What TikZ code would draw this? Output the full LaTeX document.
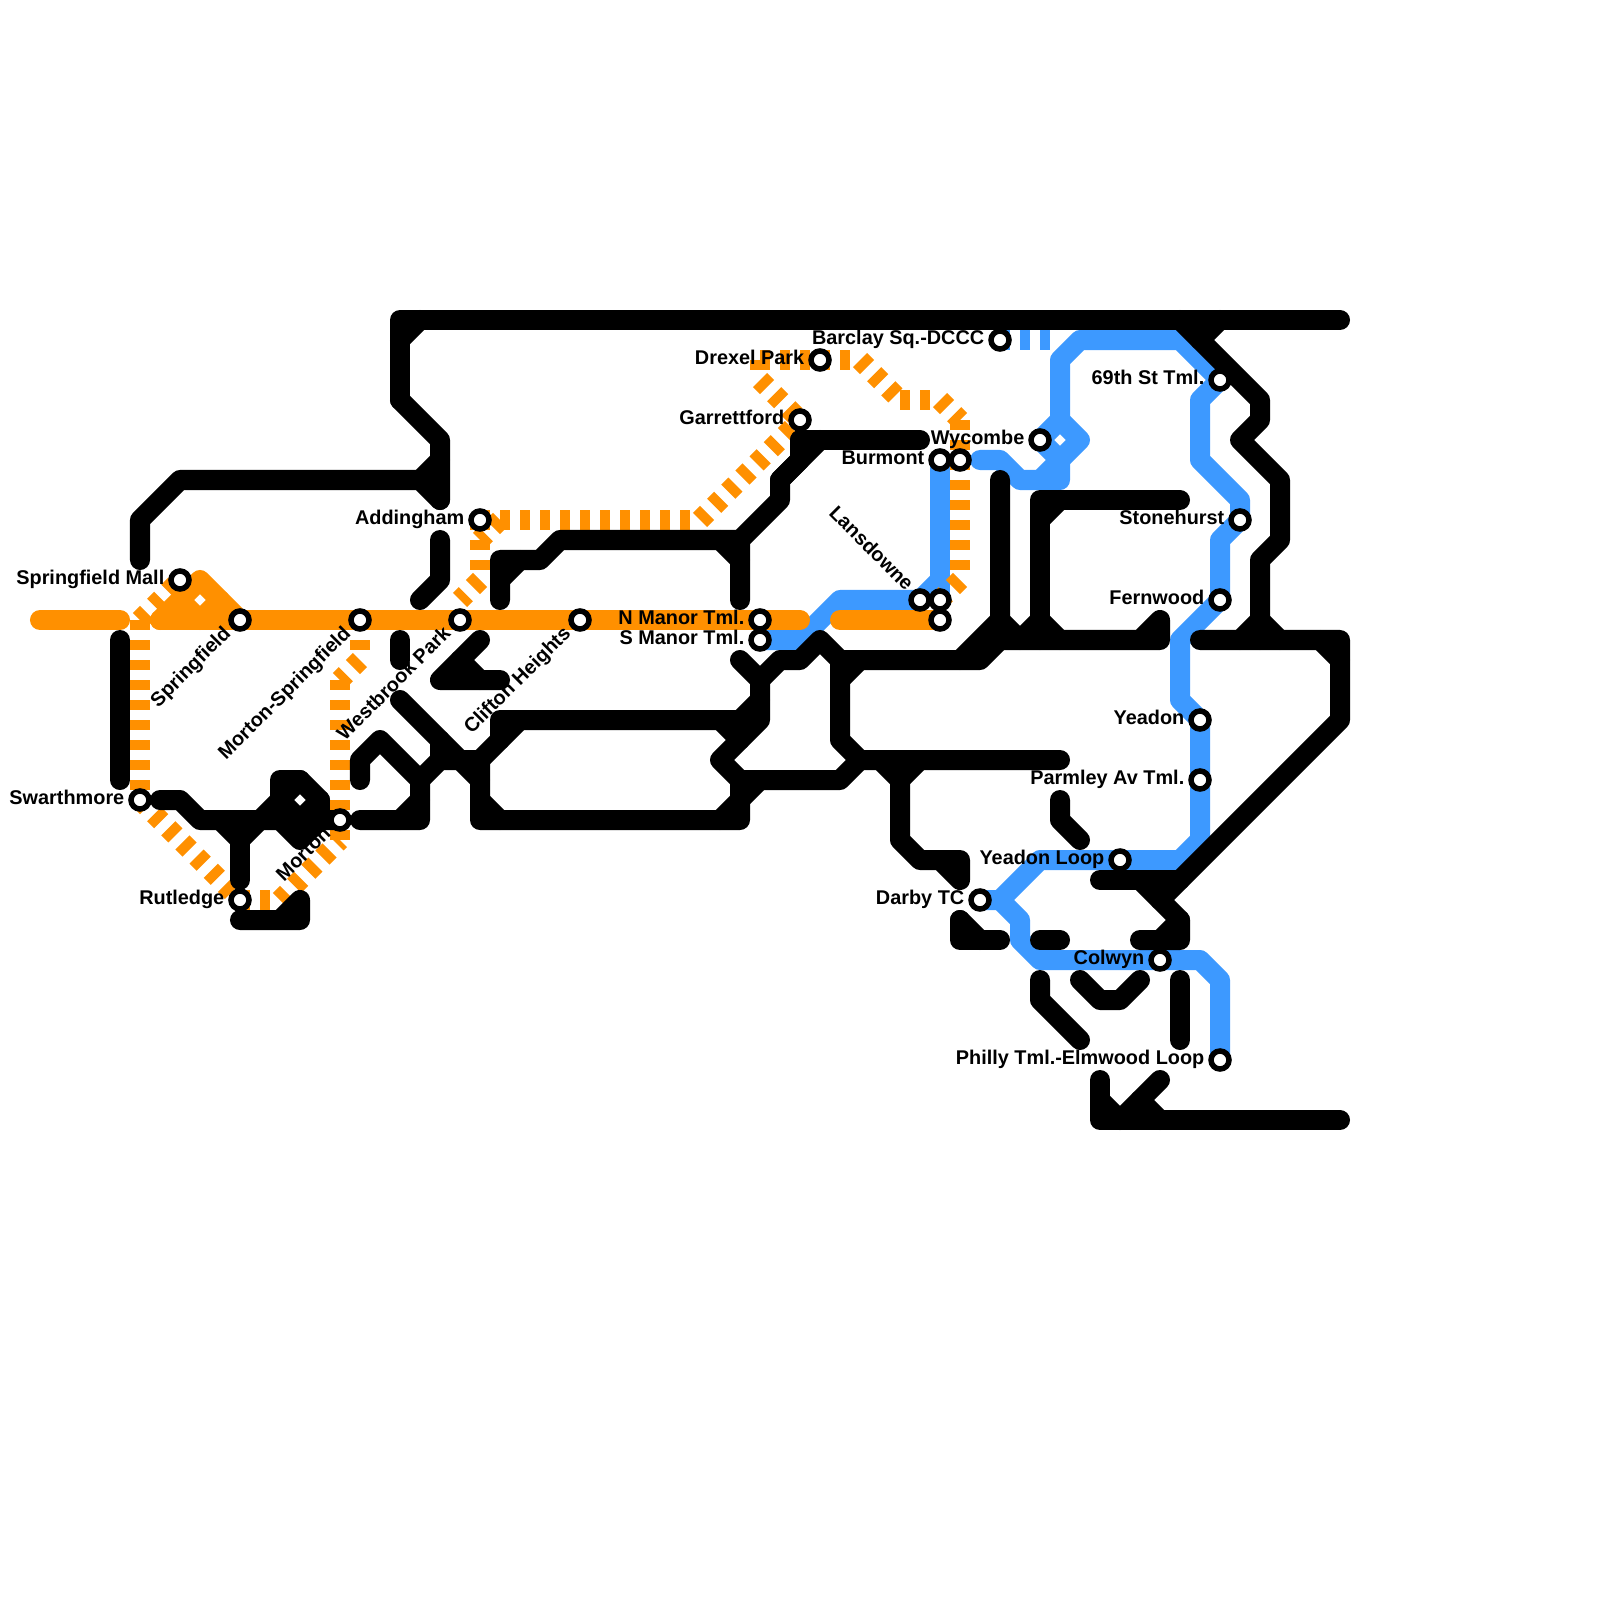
\documentclass[tikz,border=0pt]{standalone}
\usepackage{fontspec}
\setmainfont{Liberation Sans}
\tikzset{
  x=0.01cm,y=-0.01cm,
  blk/.style={draw=black,line width=0.2cm,line cap=round,line join=round},
  blu/.style={draw=mapblue,line width=0.2cm,line cap=round,line join=round},
  org/.style={draw=maporange,line width=0.2cm,line cap=round,line join=round},
  orgd/.style={draw=maporange,line width=0.2cm,line cap=butt,dash pattern=on 0.1cm off 0.1cm},
  blud/.style={draw=mapblue,line width=0.2cm,line cap=butt,dash pattern=on 0.1cm off 0.1cm},
  stn/.style={circle,draw=black,fill=white,line width=0.055cm,minimum size=0.18cm,inner sep=0pt},
  lbl/.style={font=\fontsize{5.65pt}{6pt}\selectfont\bfseries,inner sep=0pt,text height=0.14cm,text depth=0.05cm,text=black},
  lw/.style={lbl,anchor=east},
  lr/.style={lbl,anchor=east,rotate=45},
  lf/.style={lbl,anchor=east,rotate=-45},
}
\definecolor{mapblue}{HTML}{3D99FF}
\definecolor{maporange}{HTML}{FF9000}
\begin{document}
\begin{tikzpicture}
\useasboundingbox (0,0) rectangle (1600,1600);
% station positions
\coordinate (cMall) at (180,580);
\coordinate (cSpr) at (240,620);
\coordinate (cMS) at (360,620);
\coordinate (cWest) at (460,620);
\coordinate (cClif) at (580,620);
\coordinate (cNM) at (760,620);
\coordinate (cSM) at (760,640);
\coordinate (cAdd) at (480,520);
\coordinate (cSwa) at (140,800);
\coordinate (cRut) at (240,900);
\coordinate (cMor) at (340,820);
\coordinate (cDre) at (820,360);
\coordinate (cGar) at (800,420);
\coordinate (cBar) at (1000,340);
\coordinate (cWyc) at (1040,440);
\coordinate (cBur) at (940,460);
\coordinate (cBurB) at (960,460);
\coordinate (cLan) at (920,600);
\coordinate (cLanB) at (940,600);
\coordinate (cLanC) at (940,620);
\coordinate (cDar) at (980,900);
\coordinate (c69) at (1220,380);
\coordinate (cSto) at (1240,520);
\coordinate (cFer) at (1220,600);
\coordinate (cYea) at (1200,720);
\coordinate (cPar) at (1200,780);
\coordinate (cYL) at (1120,860);
\coordinate (cCol) at (1160,960);
\coordinate (cPhi) at (1220,1060);
% blue
\draw[blud] (cBar) -- (1060,340);
\draw[blu] (1060,420) -- (1060,360) -- (1080,340) -- (1180,340) -- (c69) -- (1200,400) -- (1200,460) -- (1240,500) -- (cSto) -- (1220,540) -- (cFer) -- (1180,640) -- (1180,700) -- (cYea) -- (cPar) -- (1200,840) -- (1180,860) -- (cYL) -- (1040,860) -- (1000,900) -- (cDar);
\draw[blu] (1000,900) -- (1020,920) -- (1020,940) -- (1040,960) -- (cCol) -- (1200,960) -- (1220,980) -- (cPhi);
\draw[blu] (cWyc) -- (1060,420) -- (1080,440) -- (1060,460) -- cycle;
\draw[blu] (1060,460) -- (1060,480) -- (1020,480) -- (1000,460) -- (980,460);
\draw[blu] (1060,460) -- (1040,480);
\draw[blu] (cBur) -- (cLanB);
\draw[blu] (940,580) -- (cLan) -- (840,600) -- (800,640) -- (cSM);
% orange
\draw[org] (40,620) -- (120,620);
\draw[org] (160,620) -- (800,620);
\draw[org] (160,620) -- (200,580) -- (240,620);
\draw[org] (180,600) -- (200,620) -- (220,600);
\draw[org] (840,620) -- (cLanC);
\draw[orgd] (140,620) -- (cMall);
\draw[orgd] (140,620) -- (cSwa);
\draw[orgd] (cSwa) -- (cRut);
\draw[orgd] (cRut) -- (280,900);
\draw[orgd] (280,900) -- (340,840);
\draw[orgd] (340,840) -- (cMor);
\draw[orgd] (340,680) -- (cMor);
\draw[orgd] (cMS) -- (360,660);
\draw[orgd] (360,660) -- (340,680);
\draw[orgd] (cAdd) -- (480,580);
\draw[orgd] (500,520) -- (480,540);
\draw[orgd] (480,580) -- (460,600);
\draw[orgd] (cWest) -- (460,600);
\draw[orgd] (cAdd) -- (700,520);
\draw[orgd] (700,520) -- (cGar);
\draw[orgd] (760,380) -- (cGar);
\draw[orgd] (760,360) -- (760,380);
\draw[orgd] (760,360) -- (860,360);
\draw[orgd] (860,360) -- (900,400);
\draw[orgd] (900,400) -- (940,400);
\draw[orgd] (940,400) -- (960,420);
\draw[orgd] (960,420) -- (960,580);
\draw[orgd] (960,580) -- (cLanB);
% black
\draw[blk] (400,400) -- (400,320) -- (1340,320);
\draw[blk] (400,340) -- (420,320);
\draw[blk] (400,400) -- (440,440) -- (440,500);
\draw[blk] (140,560) -- (140,520) -- (180,480) -- (420,480) -- (440,500);
\draw[blk] (420,480) -- (440,460);
\draw[blk] (440,540) -- (440,580) -- (420,600);
\draw[blk] (400,640) -- (400,660);
\draw[blk] (480,640) -- (440,680) -- (500,680);
\draw[blk] (460,660) -- (480,680);
\draw[blk] (120,640) -- (120,780);
\draw[blk] (160,800) -- (180,800) -- (200,820) -- (280,820);
\draw[blk] (220,820) -- (240,840) -- (260,820);
\draw[blk] (240,840) -- (240,880);
\draw[blk] (260,820) -- (280,800) -- (300,780) -- (320,800) -- (300,820) -- (280,800);
\draw[blk] (280,820) -- (280,780) -- (300,780);
\draw[blk] (280,820) -- (300,840) -- (320,820) -- (cMor);
\draw[blk] (320,800) -- (320,820);
\draw[blk] (240,920) -- (300,920) -- (300,900) -- (280,920);
\draw[blk] (360,780) -- (360,760) -- (380,740) -- (420,780) -- (420,820) -- (360,820);
\draw[blk] (400,820) -- (420,800);
\draw[blk] (420,780) -- (440,760) -- (480,760);
\draw[blk] (400,700) -- (460,760) -- (480,780);
\draw[blk] (440,740) -- (440,760);
\draw[blk] (480,760) -- (480,820) -- (740,820) -- (740,780) -- (720,760) -- (760,720) -- (760,680) -- (740,660);
\draw[blk] (480,800) -- (500,820);
\draw[blk] (480,760) -- (520,720);
\draw[blk] (500,740) -- (500,720) -- (740,720) -- (760,700);
\draw[blk] (720,720) -- (740,740);
\draw[blk] (720,820) -- (740,800) -- (760,780);
\draw[blk] (740,780) -- (840,780) -- (860,760);
\draw[blk] (760,680) -- (780,660) -- (800,660) -- (820,640) -- (840,660);
\draw[blk] (840,660) -- (840,740) -- (860,760) -- (1060,760);
\draw[blk] (840,680) -- (860,660);
\draw[blk] (840,660) -- (980,660) -- (1000,640);
\draw[blk] (960,660) -- (1000,620);
\draw[blk] (1000,480) -- (1000,640) -- (1160,640) -- (1160,620) -- (1140,640);
\draw[blk] (1000,620) -- (1020,640) -- (1040,620);
\draw[blk] (1180,500) -- (1040,500) -- (1040,640);
\draw[blk] (1040,520) -- (1060,500);
\draw[blk] (1040,620) -- (1060,640);
\draw[blk] (1180,320) -- (1260,400) -- (1260,420) -- (1240,440) -- (1280,480) -- (1280,540) -- (1260,560) -- (1260,640);
\draw[blk] (1200,340) -- (1220,320);
\draw[blk] (1240,640) -- (1260,620) -- (1280,640);
\draw[blk] (1200,640) -- (1340,640) -- (1340,720) -- (1160,900);
\draw[blk] (1320,640) -- (1340,660);
\draw[blk] (1100,880) -- (1180,880);
\draw[blk] (1140,880) -- (1180,920) -- (1180,940) -- (1140,940);
\draw[blk] (1160,940) -- (1180,920);
\draw[blk] (1060,800) -- (1060,820) -- (1080,840);
\draw[blk] (1040,940) -- (1060,940);
\draw[blk] (960,920) -- (960,940) -- (1000,940);
\draw[blk] (960,920) -- (980,940);
\draw[blk] (1040,980) -- (1040,1000) -- (1080,1040);
\draw[blk] (1080,980) -- (1100,1000) -- (1120,1000) -- (1140,980);
\draw[blk] (1180,980) -- (1180,1040);
\draw[blk] (1100,1080) -- (1100,1120) -- (1340,1120);
\draw[blk] (1160,1080) -- (1120,1120);
\draw[blk] (1100,1100) -- (1120,1120);
\draw[blk] (1140,1100) -- (1160,1120);
\draw[blk] (900,760) -- (900,840) -- (920,860) -- (960,860) -- (960,880) -- (940,860);
\draw[blk] (880,760) -- (900,780) -- (920,760);
\draw[blk] (cGar) ++(0,20) -- (920,440);
\draw[blk] (800,440) -- (800,460) -- (780,480) -- (780,500) -- (740,540) -- (740,600);
\draw[blk] (820,440) -- (780,480);
\draw[blk] (720,540) -- (740,560);
\draw[blk] (740,540) -- (560,540) -- (540,560) -- (500,560) -- (500,600);
\draw[blk] (500,580) -- (520,560);
% stations
\foreach \n in {Mall,Spr,MS,West,Clif,NM,SM,Add,Swa,Rut,Mor,Dre,Gar,Bar,Wyc,Bur,BurB,Lan,LanB,LanC,Dar,69,Sto,Fer,Yea,Par,YL,Col,Phi}
  \node[stn] (s\n) at (c\n) {};
% labels
\node[lw] (lMall) at ([xshift=-0.15cm]cMall) {Springfield Mall};
\node[lw] (lSwa) at ([xshift=-0.15cm]cSwa) {Swarthmore};
\node[lw] (lRut) at ([xshift=-0.15cm]cRut) {Rutledge};
\node[lw] (lAdd) at ([xshift=-0.15cm]cAdd) {Addingham};
\node[lw] (lNM) at ([xshift=-0.15cm]cNM) {N Manor Tml.};
\node[lw] (lSM) at ([xshift=-0.15cm]cSM) {S Manor Tml.};
\node[lw] (lDre) at ([xshift=-0.15cm]cDre) {Drexel Park};
\node[lw] (lGar) at ([xshift=-0.15cm]cGar) {Garrettford};
\node[lw] (lBar) at ([xshift=-0.15cm]cBar) {Barclay Sq.-DCCC};
\node[lw] (lWyc) at ([xshift=-0.15cm]cWyc) {Wycombe};
\node[lw] (lBur) at ([xshift=-0.15cm]cBur) {Burmont};
\node[lw] (lDar) at ([xshift=-0.15cm]cDar) {Darby TC};
\node[lw] (l69) at ([xshift=-0.15cm]c69) {69th St Tml.};
\node[lw] (lSto) at ([xshift=-0.15cm]cSto) {Stonehurst};
\node[lw] (lFer) at ([xshift=-0.15cm]cFer) {Fernwood};
\node[lw] (lYea) at ([xshift=-0.15cm]cYea) {Yeadon};
\node[lw] (lPar) at ([xshift=-0.15cm]cPar) {Parmley Av Tml.};
\node[lw] (lYL) at ([xshift=-0.15cm]cYL) {Yeadon Loop};
\node[lw] (lCol) at ([xshift=-0.15cm]cCol) {Colwyn};
\node[lw] (lPhi) at ([xshift=-0.15cm]cPhi) {Philly Tml.-Elmwood Loop};
\node[lr] (lSpr) at ([xshift=-0.11cm,yshift=-0.11cm]cSpr) {Springfield};
\node[lr] (lMS) at ([xshift=-0.11cm,yshift=-0.11cm]cMS) {Morton-Springfield};
\node[lr] (lWest) at ([xshift=-0.11cm,yshift=-0.11cm]cWest) {Westbrook Park};
\node[lr] (lClif) at ([xshift=-0.11cm,yshift=-0.11cm]cClif) {Clifton Heights};
\node[lr] (lMor) at ([xshift=-0.11cm,yshift=-0.11cm]cMor) {Morton};
\node[lf] (lLan) at ([xshift=-0.11cm,yshift=0.11cm]cLan) {Lansdowne};
\end{tikzpicture}
\end{document}
